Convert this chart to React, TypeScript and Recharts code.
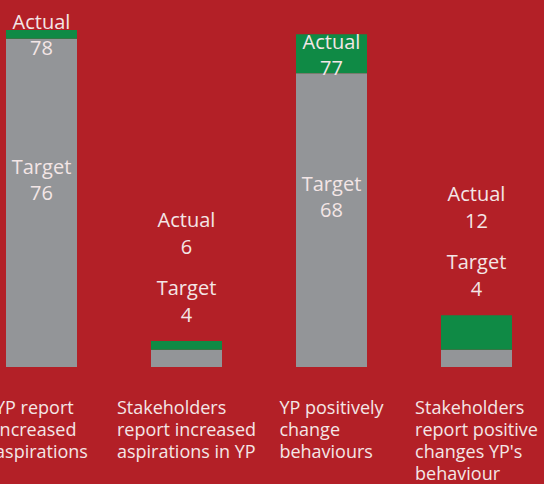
import React from 'react';
import { BarChart, Bar, XAxis, YAxis, LabelList } from 'recharts';

const categories = [
  'YP report increased aspirations',
  'Stakeholders report increased aspirations in YP',
  'YP positively change behaviours',
  "Stakeholders report positive changes YP's behaviour",
];
const categoryLines = [
  ['YP report', 'increased', 'aspirations'],
  ['Stakeholders', 'report increased', 'aspirations in YP'],
  ['YP positively', 'change', 'behaviours'],
  ['Stakeholders', 'report positive', "changes YP's", 'behaviour'],
];
const targets = [76, 4, 68, 4];
const actuals = [78, 6, 77, 12];

const data = categories.map((name, i) => ({
  name,
  target: targets[i],
  extra: actuals[i] - targets[i],
}));

const RED = '#B32027';
const GREY = '#939598';
const GREEN = '#0F8A45';
const TEXT = '#F3E6E6';
const FONT = '"Open Sans", Lato, sans-serif';
const TICK_SIZE = 18;

let ctx: CanvasRenderingContext2D | null = null;
const measure = (s: string) => {
  if (!ctx) ctx = document.createElement('canvas').getContext('2d');
  if (!ctx) return s.length * 9;
  ctx.font = `${TICK_SIZE}px ${FONT}`;
  return ctx.measureText(s).width;
};

const CategoryTick = (props: any) => {
  const { x, y, index } = props;
  const lines = categoryLines[index] || [];
  const w = Math.max(...lines.map(measure));
  const left = x - w / 2;
  return (
    <text x={left} y={y + 47} fill={TEXT} fontSize={TICK_SIZE} fontFamily={FONT} textAnchor="start">
      {lines.map((l, i) => (
        <tspan key={i} x={left} dy={i === 0 ? 0 : 22}>
          {l}
        </tspan>
      ))}
    </text>
  );
};

const ValueLabels = (props: any) => {
  const vb = props.viewBox || {};
  const bx = Number(props.x ?? vb.x);
  const by = Number(props.y ?? vb.y);
  const bw = Number(props.width ?? vb.width);
  const bh = Number(props.height ?? vb.height);
  const i = props.index;
  const extra = actuals[i] - targets[i];
  const ppu = bh / extra;
  const greyH = targets[i] * ppu;
  const cx = bx + bw / 2;
  let items: [string, number][];
  if (bh + greyH < 100) {
    items = [
      ['Actual', by - 114],
      [String(actuals[i]), by - 87],
      ['Target', by - 46],
      [String(targets[i]), by - 19],
    ];
  } else {
    const gm = by + bh / 2;
    const grm = by + bh + greyH / 2;
    items = [
      ['Actual', gm - 5],
      [String(actuals[i]), gm + 21],
      ['Target', grm - 29],
      [String(targets[i]), grm - 3],
    ];
  }
  return (
    <g>
      {items.map(([t, yy], k) => (
        <text key={k} x={cx} y={yy} fill={TEXT} fontSize={20} fontFamily={FONT} textAnchor="middle">
          {t}
        </text>
      ))}
    </g>
  );
};

export default function App() {
  return (
    <div style={{ width: 544, height: 484, position: 'fixed', left: 0, top: 0, overflow: 'hidden', background: RED }}>
      <div style={{ position: 'absolute', left: -60, top: 0 }}>
        <BarChart width={700} height={484} data={data} margin={{ top: 30, right: 91, left: 29, bottom: 0 }} barSize={71}>
          <XAxis
            dataKey="name"
            height={117}
            axisLine={false}
            tickLine={false}
            tickSize={0}
            tickMargin={0}
            interval={0}
            tick={<CategoryTick />}
          />
          <YAxis hide domain={[0, 78]} />
          <Bar dataKey="target" stackId="a" fill={GREY} isAnimationActive={false} />
          <Bar dataKey="extra" stackId="a" fill={GREEN} isAnimationActive={false}>
            <LabelList dataKey="extra" content={<ValueLabels />} />
          </Bar>
        </BarChart>
      </div>
    </div>
  );
}
